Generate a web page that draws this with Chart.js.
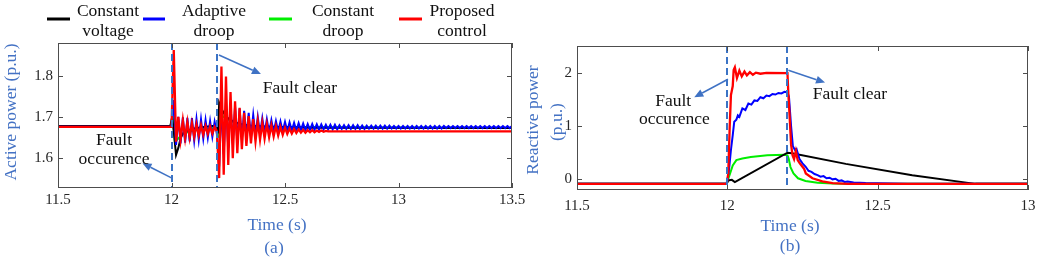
<!DOCTYPE html>
<html>
<head>
<meta charset="utf-8">
<script src="https://cdn.jsdelivr.net/npm/chart.js@4.4.1/dist/chart.umd.min.js"></script>
<style>
  html, body { margin: 0; padding: 0; background: #fff; }
  body { width: 1038px; height: 257px; position: relative; overflow: hidden; }
  .wrap { position: absolute; top: 0; height: 257px; }
  #wrapA { left: 0; width: 540px; }
  #wrapB { left: 520px; width: 518px; }
</style>
</head>
<body>
<div class="wrap" id="wrapA"><canvas id="chartA" width="540" height="257"></canvas></div>
<div class="wrap" id="wrapB"><canvas id="chartB" width="518" height="257"></canvas></div>
<script>
(function () {
    // ---- shared ----
    const seriesNames = ['Constant voltage', 'Adaptive droop', 'Constant droop', 'Proposed control'];
    const eventTimes = [12.0, 12.2];

    // ---- (a) active power ----
    const xTicksA = [11.5, 12, 12.5, 13, 13.5];
    const yTicksA = [1.6, 1.7, 1.8];

    const preTimeA = [11.5, 11.99];
    const stepA = 0.01;           // sample step of the oscillating records
    const oscStartA = 12.0;

    const blackTimeA = [11.5, 11.995, 12.003, 12.01, 12.02, 12.03, 12.04, 12.05, 12.07, 12.1, 12.15, 12.2, 12.205, 12.21, 12.22, 12.24, 12.27, 12.3, 12.35, 12.45, 12.6, 13.5];
    const blackA = [1.678, 1.678, 1.700, 1.665, 1.608, 1.625, 1.648, 1.660, 1.667, 1.672, 1.676, 1.679, 1.660, 1.734, 1.720, 1.700, 1.690, 1.683, 1.678, 1.676, 1.674, 1.673];

    const greenTimeA = [11.5, 11.995, 12.005, 12.015, 12.025, 12.05, 12.1, 12.2, 12.205, 12.212, 12.23, 12.26, 12.3, 12.4, 13.5];
    const greenA = [1.676, 1.676, 1.705, 1.640, 1.645, 1.660, 1.668, 1.674, 1.650, 1.710, 1.700, 1.690, 1.682, 1.676, 1.673];

    const bluePreA = [1.676, 1.676];
    const blueA = [
        1.676, 1.741, 1.632, 1.700, 1.636, 1.699, 1.638, 1.698, 1.641, 1.697,
        1.643, 1.695, 1.645, 1.694, 1.648, 1.692, 1.650, 1.690, 1.652, 1.688,
        1.660, 1.580, 1.730, 1.610, 1.735, 1.625, 1.730, 1.635, 1.725, 1.640,
        1.720, 1.645, 1.715, 1.650, 1.710, 1.652, 1.705, 1.655, 1.700, 1.658,
        1.697, 1.660, 1.694, 1.662, 1.692, 1.663, 1.690, 1.664, 1.689, 1.665,
        1.688, 1.666, 1.687, 1.667, 1.686, 1.667, 1.685, 1.668, 1.684, 1.668,
        1.683, 1.669, 1.683, 1.669, 1.682, 1.669, 1.682, 1.670, 1.681, 1.670,
        1.681, 1.670, 1.681, 1.670, 1.680, 1.671, 1.680, 1.671, 1.680, 1.671,
        1.680, 1.671, 1.680, 1.671, 1.679, 1.671, 1.679, 1.672, 1.679, 1.672,
        1.679, 1.672, 1.679, 1.672, 1.679, 1.672, 1.679, 1.672, 1.678, 1.672,
        1.678, 1.672, 1.678, 1.672, 1.678, 1.672, 1.678, 1.672, 1.678, 1.672,
        1.678, 1.672, 1.678, 1.672, 1.678, 1.672, 1.678, 1.672, 1.678, 1.672,
        1.678, 1.673, 1.678, 1.673, 1.678, 1.673, 1.678, 1.673, 1.678, 1.673,
        1.678, 1.673, 1.678, 1.673, 1.678, 1.673, 1.678, 1.673, 1.678, 1.673,
        1.678, 1.673, 1.678, 1.673, 1.678, 1.673, 1.678, 1.673, 1.678, 1.673,
        1.678
    ];

    const redPreA = [1.676, 1.676];
    const redA = [
        1.676, 1.862, 1.640, 1.700, 1.645, 1.692, 1.648, 1.688, 1.650, 1.685,
        1.652, 1.682, 1.655, 1.680, 1.657, 1.678, 1.659, 1.677, 1.660, 1.676,
        1.665, 1.552, 1.822, 1.560, 1.798, 1.584, 1.760, 1.600, 1.738, 1.612,
        1.722, 1.622, 1.710, 1.630, 1.702, 1.636, 1.695, 1.641, 1.690, 1.645,
        1.686, 1.648, 1.683, 1.651, 1.680, 1.653, 1.678, 1.655, 1.676, 1.657,
        1.674, 1.659, 1.672, 1.660, 1.671, 1.661, 1.670, 1.662, 1.669, 1.662,
        1.668, 1.663, 1.668, 1.663, 1.667, 1.664, 1.667, 1.664, 1.666, 1.665
    ];
    const redTailTimeA = [12.8, 13.2, 13.5];
    const redTailA = [1.665, 1.665, 1.665];

    // ---- (b) reactive power ----
    const xTicksB = [11.5, 12, 12.5, 13];
    const yTicksB = [0, 1, 2];

    const blackTimeB = [11.5, 11.998, 12.003, 12.015, 12.025, 12.2, 12.215, 12.394, 12.615, 12.825, 13.0];
    const blackB = [-0.085, -0.085, -0.02, -0.01, -0.05, 0.50, 0.49, 0.29, 0.075, -0.085, -0.085];

    const blueTimeB = [11.5, 11.998, 12.005, 12.012, 12.018, 12.023, 12.03, 12.035, 12.04, 12.05, 12.06, 12.07, 12.08, 12.09, 12.1, 12.11, 12.12, 12.13, 12.14, 12.15, 12.16, 12.17, 12.18, 12.19, 12.2,
        12.205, 12.212, 12.218, 12.225, 12.23, 12.24, 12.25, 12.26, 12.27, 12.28, 12.29, 12.3, 12.31, 12.32, 12.33, 12.34, 12.35, 12.36, 12.37, 12.38, 12.39, 12.4, 12.42, 12.44, 12.46, 12.5, 12.6, 13.0];
    const blueB = [-0.085, -0.085, 0.15, 0.55, 0.83, 1.08, 1.12, 1.20, 1.17, 1.33, 1.30, 1.42, 1.40, 1.48, 1.47, 1.54, 1.52, 1.57, 1.56, 1.60, 1.59, 1.62, 1.61, 1.64, 1.63,
        1.55, 1.00, 0.62, 0.55, 0.57, 0.38, 0.30, 0.24, 0.16, 0.14, 0.10, 0.08, 0.05, 0.06, 0.02, 0.03, 0.00, 0.01, -0.03, -0.02, -0.05, -0.04, -0.06, -0.065, -0.07, -0.075, -0.085, -0.085];

    const greenTimeB = [11.5, 11.998, 12.005, 12.018, 12.03, 12.05, 12.078, 12.133, 12.19, 12.2, 12.204, 12.21, 12.22, 12.235, 12.26, 12.3, 12.35, 12.4, 13.0];
    const greenB = [-0.085, -0.085, 0.04, 0.26, 0.36, 0.39, 0.42, 0.45, 0.46, 0.45, 0.39, 0.23, 0.11, 0.02, -0.03, -0.065, -0.08, -0.085, -0.085];

    const redTimeB = [11.5, 11.998, 12.003, 12.008, 12.012, 12.018, 12.021, 12.025, 12.032, 12.04, 12.048, 12.057, 12.065, 12.075, 12.085, 12.095, 12.11, 12.13, 12.2,
        12.203, 12.207, 12.212, 12.217, 12.222, 12.228, 12.234, 12.241, 12.248, 12.255, 12.261, 12.283, 12.316, 12.35, 12.4, 13.0];
    const redB = [-0.085, -0.085, 0.10, 1.00, 1.58, 1.75, 2.05, 2.10, 1.90, 2.04, 1.93, 2.02, 1.95, 2.01, 1.96, 2.00, 1.98, 1.995, 1.99,
        1.60, 1.20, 0.65, 0.45, 0.38, 0.53, 0.36, 0.30, 0.25, 0.20, 0.11, 0.02, -0.04, -0.07, -0.085, -0.085];

    // annotations: [tStart, vStart, tTip, vTip] / [text, t, v]
    const arrowsA = [[12.209, 1.850, 12.394, 1.804], [12.002, 1.552, 11.872, 1.588]];
    const notesA = [['Fault clear', 12.566, 1.768], ['Fault', 11.747, 1.642], ['occurence', 11.747, 1.598]];
    const arrowsB = [[12.002, 1.876, 11.890, 1.540], [12.203, 2.045, 12.325, 1.815]];
    const notesB = [['Fault', 11.82, 1.463], ['occurence', 11.824, 1.126], ['Fault clear', 12.408, 1.595]];

    const colors = { black: '#000000', blue: '#0000ff', green: '#00ee00', red: '#ff0000' };
    const axisBlue = '#4472c4';
    const serif = '"Liberation Serif", "Times New Roman", serif';

    function toPoints(times, values) {
        return values.map((v, i) => ({ x: times[i], y: v }));
    }
    function sampledTimes(start, step, count) {
        const out = [];
        for (let i = 0; i < count; i++) out.push(+(start + i * step).toFixed(3));
        return out;
    }

    function drawArrow(ctx, x0, y0, x1, y1) {
        const ang = Math.atan2(y1 - y0, x1 - x0);
        const len = 9, half = 4;
        const bx = x1 - len * Math.cos(ang), by = y1 - len * Math.sin(ang);
        ctx.beginPath();
        ctx.moveTo(x0, y0);
        ctx.lineTo(bx, by);
        ctx.stroke();
        ctx.beginPath();
        ctx.moveTo(x1, y1);
        ctx.lineTo(bx + half * Math.sin(ang), by - half * Math.cos(ang));
        ctx.lineTo(bx - half * Math.sin(ang), by + half * Math.cos(ang));
        ctx.closePath();
        ctx.fill();
    }

    // Box, inner ticks, tick labels, event lines and notes
    function framePlugin(opts) {
        return {
            id: 'frame',
            afterDatasetsDraw(chart) {
                const { ctx, chartArea: a, scales: { x, y } } = chart;
                ctx.save();
                ctx.strokeStyle = '#3b73c5';
                ctx.lineWidth = 2;
                ctx.setLineDash([7, 4]);
                eventTimes.forEach(t => {
                    const px = Math.round(x.getPixelForValue(t));
                    ctx.beginPath();
                    ctx.moveTo(px, a.top);
                    ctx.lineTo(px, a.bottom);
                    ctx.stroke();
                });
                ctx.restore();
            },
            afterDraw(chart) {
                const { ctx, chartArea: a, scales: { x, y } } = chart;
                ctx.save();
                // box
                ctx.strokeStyle = '#4d4d4d';
                ctx.lineWidth = 1;
                ctx.strokeRect(a.left + 0.5, a.top + 0.5, a.right - a.left - 1, a.bottom - a.top - 1);
                // inner ticks
                ctx.beginPath();
                opts.xTicks.forEach(t => {
                    const px = Math.round(x.getPixelForValue(t)) + 0.5;
                    ctx.moveTo(px, a.bottom); ctx.lineTo(px, a.bottom - 5);
                    ctx.moveTo(px, a.top); ctx.lineTo(px, a.top + 5);
                });
                opts.yTicks.forEach(v => {
                    const py = Math.round(y.getPixelForValue(v)) + 0.5;
                    ctx.moveTo(a.left, py); ctx.lineTo(a.left + 5, py);
                    ctx.moveTo(a.right, py); ctx.lineTo(a.right - 5, py);
                });
                ctx.stroke();
                // tick labels
                ctx.fillStyle = '#262626';
                ctx.font = '15px ' + serif;
                ctx.textAlign = 'center';
                ctx.textBaseline = 'middle';
                opts.xTicks.forEach(t => ctx.fillText(String(t), x.getPixelForValue(t), a.bottom + opts.xLabelGap));
                ctx.textAlign = 'right';
                opts.yTicks.forEach(v => ctx.fillText(opts.yFormat(v), a.left - 5, y.getPixelForValue(v)));
                // arrows
                ctx.strokeStyle = '#3f72c4';
                ctx.fillStyle = '#3f72c4';
                ctx.lineWidth = 1.5;
                opts.arrows.forEach(([t0, v0, t1, v1]) => {
                    drawArrow(ctx, x.getPixelForValue(t0), y.getPixelForValue(v0), x.getPixelForValue(t1), y.getPixelForValue(v1));
                });
                // notes
                ctx.fillStyle = '#111';
                ctx.font = '17.5px ' + serif;
                ctx.textAlign = 'center';
                opts.notes.forEach(([txt, t, v]) => ctx.fillText(txt, x.getPixelForValue(t), y.getPixelForValue(v)));
                // axis titles
                ctx.fillStyle = axisBlue;
                opts.xTitle.forEach(([txt, cx, cy]) => ctx.fillText(txt, cx, cy));
                opts.yTitle.forEach(([txt, cx, cy]) => {
                    ctx.save();
                    ctx.translate(cx, cy);
                    ctx.rotate(-Math.PI / 2);
                    ctx.fillText(txt, 0, 0);
                    ctx.restore();
                });
                if (opts.legend) opts.legend(ctx);
                ctx.restore();
            }
        };
    }

    function drawLegend(ctx) {
        const items = [
            { color: colors.black, x0: 47, x1: 70, cx: 108, lines: ['Constant', 'voltage'] },
            { color: colors.blue, x0: 143, x1: 165, cx: 214, lines: ['Adaptive', 'droop'] },
            { color: colors.green, x0: 269, x1: 292, cx: 343, lines: ['Constant', 'droop'] },
            { color: colors.red, x0: 399, x1: 422, cx: 462, lines: ['Proposed', 'control'] }
        ];
        ctx.font = '17.5px ' + serif;
        ctx.textAlign = 'center';
        ctx.textBaseline = 'middle';
        items.forEach(it => {
            ctx.strokeStyle = it.color;
            ctx.lineWidth = 3;
            ctx.beginPath();
            ctx.moveTo(it.x0, 19);
            ctx.lineTo(it.x1, 19);
            ctx.stroke();
            ctx.fillStyle = '#111';
            ctx.fillText(it.lines[0], it.cx, 11);
            ctx.fillText(it.lines[1], it.cx, 31);
        });
    }

    function lineSet(label, data, color, order, width) {
        return {
            label: label,
            data: data,
            borderColor: color,
            backgroundColor: color,
            borderWidth: width || 2,
            pointRadius: 0,
            tension: 0,
            fill: false,
            order: order
        };
    }

    const oscTimesBlue = sampledTimes(oscStartA, stepA, blueA.length);
    const oscTimesRed = sampledTimes(oscStartA, stepA, redA.length);

    const dataA = {
        datasets: [
            lineSet(seriesNames[0], toPoints(blackTimeA, blackA), colors.black, 3),
            lineSet(seriesNames[1], toPoints(preTimeA, bluePreA).concat(toPoints(oscTimesBlue, blueA)), colors.blue, 2),
            lineSet(seriesNames[2], toPoints(greenTimeA, greenA), colors.green, 4),
            lineSet(seriesNames[3], toPoints(preTimeA, redPreA).concat(toPoints(oscTimesRed, redA), toPoints(redTailTimeA, redTailA)), colors.red, 1, 2.3)
        ]
    };

    const dataB = {
        datasets: [
            lineSet(seriesNames[0], toPoints(blackTimeB, blackB), colors.black, 3),
            lineSet(seriesNames[1], toPoints(blueTimeB, blueB), colors.blue, 2),
            lineSet(seriesNames[2], toPoints(greenTimeB, greenB), colors.green, 4),
            lineSet(seriesNames[3], toPoints(redTimeB, redB), colors.red, 1, 2.3)
        ]
    };

    function baseOptions(padding, xr, yr) {
        return {
            responsive: false,
            animation: false,
            devicePixelRatio: 1,
            layout: { padding: padding },
            plugins: { legend: { display: false }, tooltip: { enabled: false } },
            scales: {
                x: { type: 'linear', display: false, min: xr[0], max: xr[1] },
                y: { type: 'linear', display: false, min: yr[0], max: yr[1] }
            }
        };
    }

    new Chart(document.getElementById('chartA').getContext('2d'), {
        type: 'line',
        data: dataA,
        options: baseOptions({ left: 58, top: 43, right: 28, bottom: 69 }, [11.5, 13.5], [1.528, 1.879]),
        plugins: [framePlugin({
            xTicks: xTicksA, yTicks: yTicksA, xLabelGap: 12,
            yFormat: v => v.toFixed(1),
            arrows: arrowsA, notes: notesA,
            xTitle: [['Time (s)', 277, 225], ['(a)', 274, 248]],
            yTitle: [['Active power (p.u.)', 11, 112]],
            legend: drawLegend
        })]
    });

    new Chart(document.getElementById('chartB').getContext('2d'), {
        type: 'line',
        data: dataB,
        options: baseOptions({ left: 57, top: 46, right: 10, bottom: 67 }, [11.5, 13.0], [-0.2, 2.5]),
        plugins: [framePlugin({
            xTicks: xTicksB, yTicks: yTicksB, xLabelGap: 16,
            yFormat: v => String(v),
            arrows: arrowsB, notes: notesB,
            xTitle: [['Time (s)', 270, 226], ['(b)', 270, 246]],
            yTitle: [['Reactive power', 13, 120], ['(p.u.)', 37, 122]]
        })]
    });
})();
</script>
</body>
</html>
